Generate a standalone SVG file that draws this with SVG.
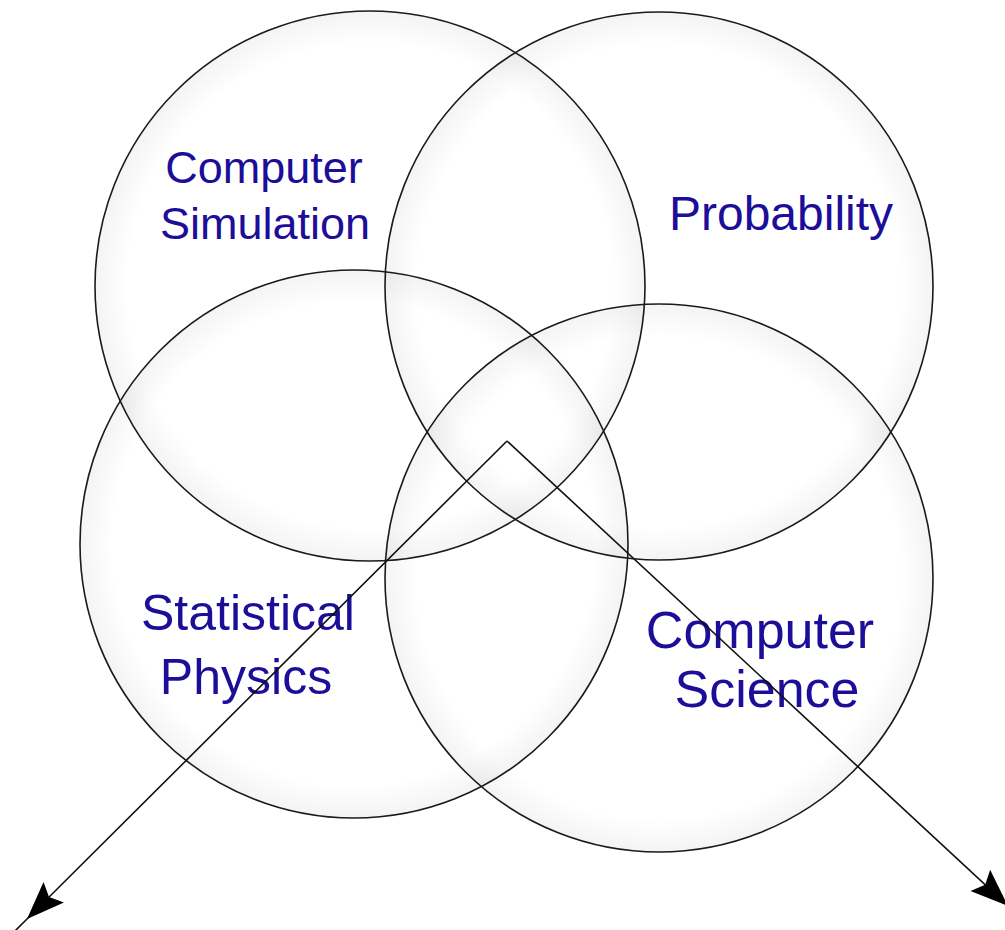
<svg xmlns="http://www.w3.org/2000/svg" width="1005" height="930" viewBox="0 0 1005 930">
<defs>
<radialGradient id="glow" cx="0.5" cy="0.5" r="0.5">
<stop offset="0.88" stop-color="#000" stop-opacity="0"/>
<stop offset="1" stop-color="#000" stop-opacity="0.045"/>
</radialGradient>
<marker id="ah" markerUnits="userSpaceOnUse" markerWidth="40" markerHeight="30" viewBox="0 0 36 26" refX="34" refY="13" orient="auto">
<path d="M0,0 L34,13 L0,26 L6,13 z" fill="#000"/>
</marker>
</defs>
<style>
.c{fill:url(#glow);stroke:#1a1a1a;stroke-width:1.6}
.t{font-family:"Liberation Sans",Arial,sans-serif;fill:#1c0e98;text-anchor:middle}
.l{stroke:#111;stroke-width:1.6;fill:none}
</style>
<rect width="1005" height="930" fill="#fff"/>
<g id="computer-simulation">
<circle class="c" cx="370" cy="286" r="275"/>
<text class="t" x="264" y="183" font-size="45">Computer</text>
<text class="t" x="265" y="239" font-size="45">Simulation</text>
</g>
<g id="probability">
<circle class="c" cx="659" cy="286" r="274"/>
<text class="t" x="781" y="230" font-size="48">Probability</text>
</g>
<g id="statistical-physics">
<circle class="c" cx="354" cy="544" r="274"/>
<text class="t" x="248" y="630" font-size="50">Statistical</text>
<text class="t" x="246" y="694" font-size="50">Physics</text>
</g>
<g id="computer-science">
<circle class="c" cx="659" cy="578" r="274"/>
<text class="t" x="760" y="648" font-size="52">Computer</text>
<text class="t" x="767" y="707" font-size="52">Science</text>
</g>
<g id="connectors">
<polyline class="l" points="507,441 27,919 10,936" marker-mid="url(#ah)"/>
<polyline class="l" points="507,441 1008,906" marker-end="url(#ah)"/>
</g>
</svg>
